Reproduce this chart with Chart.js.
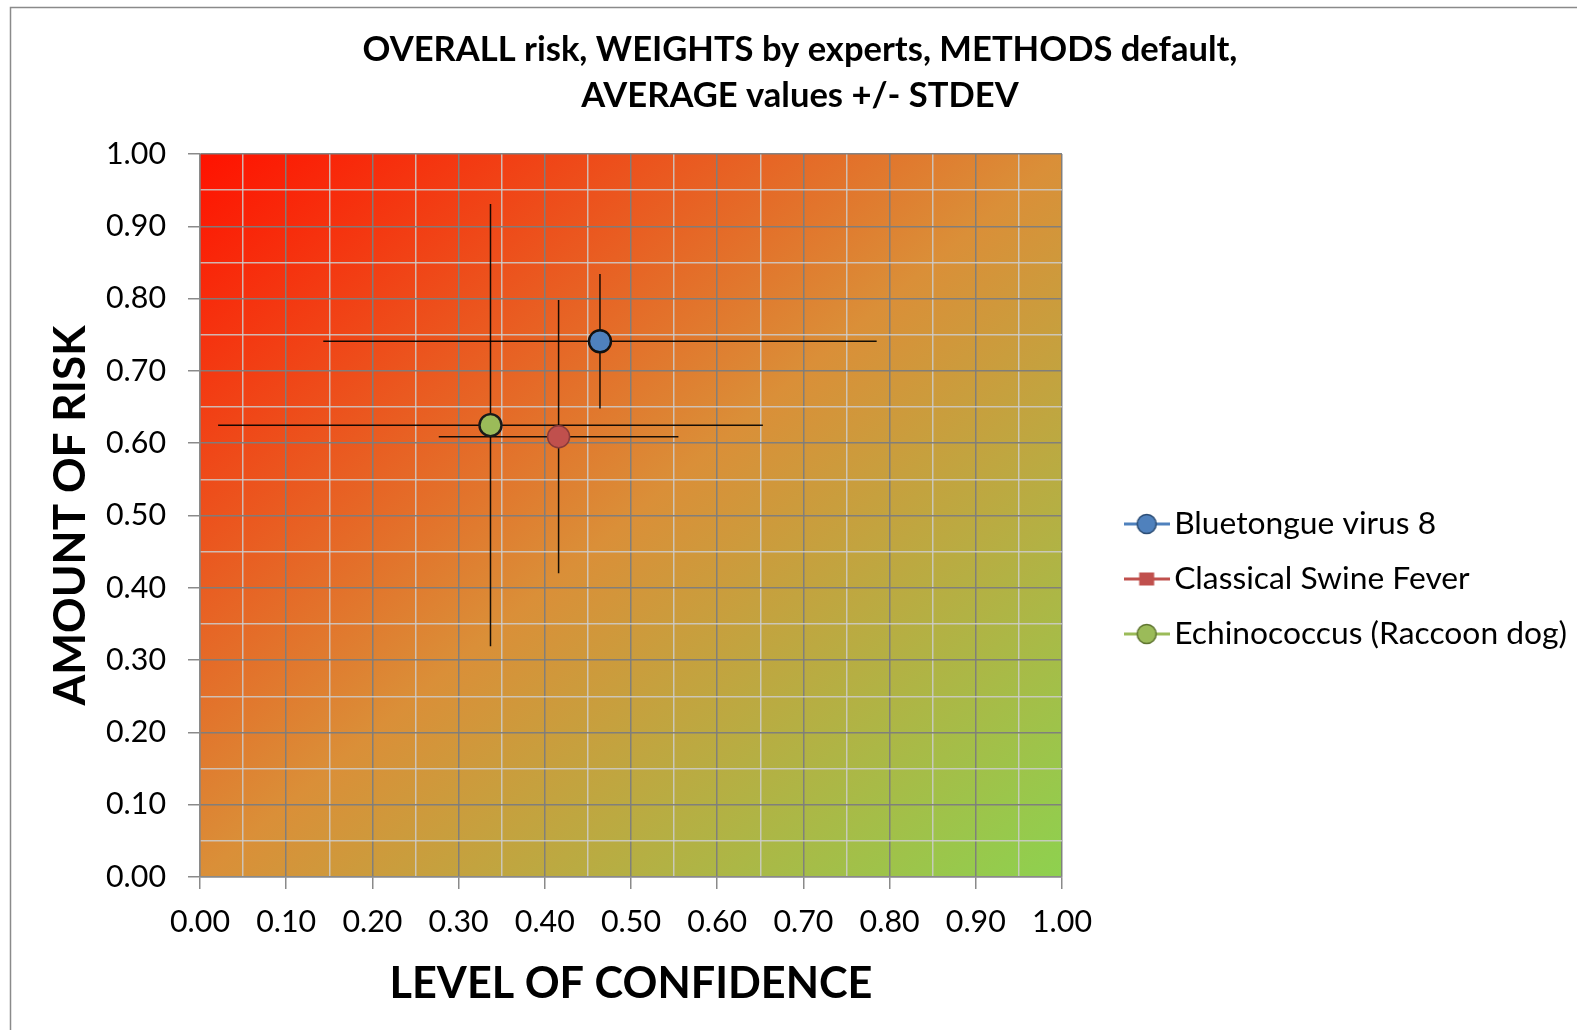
<!DOCTYPE html>
<html><head><meta charset="utf-8">
<script src="https://cdn.jsdelivr.net/npm/chart.js@4.4.0/dist/chart.umd.min.js"></script>
<style>html,body{margin:0;padding:0;background:#fff;}canvas{display:block;}</style>
</head><body>
<canvas id="c" width="1577" height="1030"></canvas>
<script>
// ---- data ----
const seriesNames = ['Bluetongue virus 8', 'Classical Swine Fever', 'Echinococcus (Raccoon dog)'];
const confidence = [0.464, 0.416, 0.337];      // x: level of confidence (average)
const risk = [0.741, 0.609, 0.625];            // y: amount of risk (average)
const confidenceSd = [0.321, 0.139, 0.316];    // x stdev
const riskSd = [0.093, 0.189, 0.306];          // y stdev
const titleLines = ['OVERALL risk, WEIGHTS by experts, METHODS default,', 'AVERAGE values +/- STDEV'];
const xAxisTitle = 'LEVEL OF CONFIDENCE';
const yAxisTitle = 'AMOUNT OF RISK';
const axisMin = 0, axisMax = 1, gridStep = 0.05, labelStep = 0.1;

// ---- styles ----
const fillColors = ['#4F81BD', '#C0504D', '#9BBB59'];
const borderColors = ['#111111', '#8A3A38', '#1a1a1a'];
const legendBorders = ['#2C4D75', '#8A3A38', '#5F7530'];
const FONT = 'Lato';
const PAD_BOTTOM = 26;

const mctx = document.createElement('canvas').getContext('2d');
function fit(text, weight, target) {
  mctx.font = weight + ' 100px ' + FONT;
  return 100 * target / mctx.measureText(text).width;
}
const titleSize = fit(titleLines[0], 'bold', 875);
const tickSize = fit('0.00', 'normal', 60);
const yTitleSize = fit(yAxisTitle, 'bold', 380);
const xTitleSize = fit(xAxisTitle, 'bold', 483);
const legendSize = fit(seriesNames[2], 'normal', 393);

const PLOT_RIGHT = 1062;
const isMajor = v => Math.abs(Math.round(v / labelStep) - v / labelStep) < 1e-6;

function legendMarker(i) {
  const c = document.createElement('canvas');
  c.width = 46; c.height = 24;
  const g = c.getContext('2d');
  g.strokeStyle = fillColors[i]; g.lineWidth = 3;
  g.beginPath(); g.moveTo(0, 12); g.lineTo(46, 12); g.stroke();
  if (i === 1) {
    g.fillStyle = fillColors[i]; g.fillRect(15.5, 5.5, 15, 13);
  } else {
    g.beginPath(); g.arc(23, 12, 9.5, 0, Math.PI * 2);
    g.fillStyle = fillColors[i]; g.fill();
    g.lineWidth = 1.5; g.strokeStyle = legendBorders[i]; g.stroke();
  }
  return c;
}
const markers = seriesNames.map((_, i) => legendMarker(i));

const backgroundPlugin = {
  id: 'bg',
  beforeDraw(chart) {
    const {ctx, chartArea: a} = chart;
    ctx.save();
    ctx.strokeStyle = '#8a8a8a'; ctx.lineWidth = 1.5;
    ctx.strokeRect(10.5, 7.5, 1700, 1100);
    ctx.translate(a.left, a.top);
    ctx.scale(a.right - a.left, a.bottom - a.top);
    const gr = ctx.createLinearGradient(0, 0, 1, 1);
    gr.addColorStop(0, '#FF1200');
    gr.addColorStop(0.5, '#DA8F38');
    gr.addColorStop(1, '#8ED14F');
    ctx.fillStyle = gr;
    ctx.fillRect(0, 0, 1, 1);
    ctx.restore();
  }
};

const titlePlugin = {
  id: 'title2',
  afterDraw(chart) {
    const ctx = chart.ctx;
    ctx.save();
    ctx.fillStyle = '#000';
    ctx.font = 'bold ' + titleSize + 'px ' + FONT;
    ctx.textAlign = 'center'; ctx.textBaseline = 'middle';
    ctx.fillText(titleLines[0], 800, 49.5);
    ctx.fillText(titleLines[1], 800, 95.5);
    ctx.restore();
  }
};

const errorBarPlugin = {
  id: 'errorBars',
  beforeDatasetsDraw(chart) {
    const {ctx} = chart;
    const x = chart.scales.x, y = chart.scales.y;
    ctx.save();
    ctx.strokeStyle = 'rgba(0,0,0,0.9)';
    ctx.lineWidth = 1.5;
    for (let i = 0; i < confidence.length; i++) {
      const px = x.getPixelForValue(confidence[i]);
      const py = y.getPixelForValue(risk[i]);
      ctx.beginPath();
      ctx.moveTo(x.getPixelForValue(confidence[i] - confidenceSd[i]), py);
      ctx.lineTo(x.getPixelForValue(confidence[i] + confidenceSd[i]), py);
      ctx.moveTo(px, y.getPixelForValue(risk[i] + riskSd[i]));
      ctx.lineTo(px, y.getPixelForValue(risk[i] - riskSd[i]));
      ctx.stroke();
    }
    ctx.restore();
  }
};

Chart.defaults.color = '#000';
Chart.defaults.font.family = FONT;

const datasets = seriesNames.map((name, i) => ({
  label: name,
  data: [{x: confidence[i], y: risk[i]}],
  backgroundColor: fillColors[i],
  borderColor: borderColors[i],
  pointRadius: 11,
  pointHoverRadius: 11,
  pointBorderWidth: i === 1 ? 1.5 : 2.4,
  showLine: false
}));

const gridColor = c => isMajor(c.tick.value) ? 'rgba(125,125,125,0.95)' : 'rgba(205,205,205,0.85)';
const tickColor = c => isMajor(c.tick.value) ? '#8a8a8a' : 'rgba(0,0,0,0)';

new Chart(document.getElementById('c'), {
  type: 'scatter',
  data: {datasets},
  options: {
    responsive: false,
    animation: false,
    layout: {padding: {top: 154, left: 0, right: 0, bottom: PAD_BOTTOM}},
    plugins: {
      tooltip: {enabled: false},
      title: {display: false},
      legend: {
        position: 'right',
        align: 'center',
        maxWidth: 700,
        labels: {
          usePointStyle: true,
          pointStyleWidth: 55 - legendSize,
          padding: 55 - legendSize,
          color: '#000',
          font: {family: FONT, size: legendSize},
          generateLabels(chart) {
            const items = Chart.defaults.plugins.legend.labels.generateLabels(chart);
            items.forEach((it, i) => { it.pointStyle = markers[i]; });
            return items;
          }
        }
      }
    },
    scales: {
      x: {
        type: 'linear', position: 'bottom', min: axisMin, max: axisMax,
        ticks: {
          stepSize: gridStep, autoSkip: false, maxRotation: 0,
          padding: 18, color: '#000',
          font: {family: FONT, size: tickSize, lineHeight: 1},
          callback: v => isMajor(v) ? v.toFixed(2) : ''
        },
        grid: {color: gridColor, lineWidth: 1.5, tickLength: 12, tickColor: tickColor, tickWidth: 1.5},
        border: {color: '#8a8a8a', width: 1.5},
        title: {
          display: true, text: xAxisTitle, color: '#000',
          font: {family: FONT, weight: 'bold', size: xTitleSize, lineHeight: 40 / xTitleSize},
          padding: {top: 0, bottom: 0}
        },
        afterFit(s) { s.height = 1030 - PAD_BOTTOM - 877; }
      },
      y: {
        type: 'linear', position: 'left', min: axisMin, max: axisMax,
        ticks: {
          stepSize: gridStep, autoSkip: false,
          padding: 22, color: '#000',
          font: {family: FONT, size: tickSize, lineHeight: 1},
          callback: v => isMajor(v) ? v.toFixed(2) : ''
        },
        grid: {color: gridColor, lineWidth: 1.5, tickLength: 12, tickColor: tickColor, tickWidth: 1.5},
        border: {color: '#8a8a8a', width: 1.5},
        title: {
          display: true, text: yAxisTitle, color: '#000',
          font: {family: FONT, weight: 'bold', size: yTitleSize, lineHeight: 1},
          padding: {top: 71 - yTitleSize / 2, bottom: 0}
        },
        afterFit(s) { s.width = 200; }
      },
      gap: {
        type: 'linear', position: 'right', display: true, min: 0, max: 1,
        grid: {display: false, drawOnChartArea: false},
        ticks: {display: false},
        border: {display: false},
        afterFit(s) {
          const lg = s.chart.legend;
          s.width = Math.max(0, 1577 - (lg ? lg.width : 0) - PLOT_RIGHT);
        }
      }
    }
  },
  plugins: [backgroundPlugin, errorBarPlugin, titlePlugin]
});
</script>
</body></html>
